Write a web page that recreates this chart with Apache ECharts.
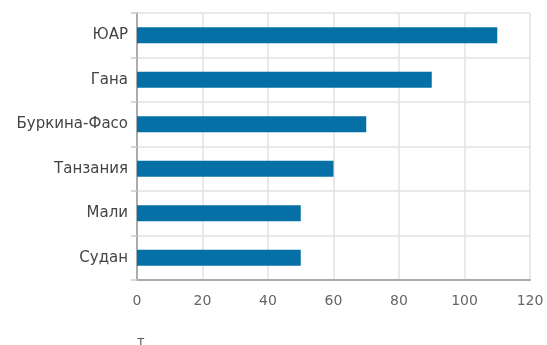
<!DOCTYPE html>
<html>
<head>
<meta charset="utf-8">
<script src="https://cdn.jsdelivr.net/npm/echarts@6/dist/echarts.min.js"></script>
<style>
  html, body { margin: 0; padding: 0; background: #fff; }
  #chart { width: 547px; height: 345px; }
</style>
</head>
<body>
<div id="chart"></div>
<script>
// Countries, listed bottom to top as the category axis draws them
const countries = ['Судан', 'Мали', 'Танзания', 'Буркина-Фасо', 'Гана', 'ЮАР'];
// Values in tonnes
const values = [50, 50, 60, 70, 90, 110];
const unitLabel = 'т';

const chart = echarts.init(document.getElementById('chart'), null, { renderer: 'canvas' });
const font = '"DejaVu Sans", "Noto Sans", sans-serif';

chart.setOption({
  animation: false,
  grid: { left: 137, right: 17, top: 13, bottom: 65, containLabel: false },
  xAxis: {
    type: 'value',
    min: 0,
    max: 120,
    interval: 20,
    axisLine: { show: true, lineStyle: { color: '#aaa', width: 2 } },
    axisTick: { show: false },
    axisLabel: { color: '#666', fontSize: 14, fontFamily: font, margin: 14 },
    splitLine: { show: true, lineStyle: { color: '#e2e2e2', width: 1.5 } }
  },
  yAxis: {
    type: 'category',
    data: countries,
    axisLine: { show: true, lineStyle: { color: '#999', width: 1.5 } },
    axisTick: { show: true, length: 6, lineStyle: { color: '#ccc', width: 1.5 } },
    axisLabel: { color: '#444', fontSize: 15, fontFamily: font, margin: 9 },
    splitLine: { show: true, lineStyle: { color: '#e2e2e2', width: 1.5 } }
  },
  series: [{
    type: 'bar',
    data: values,
    barWidth: 16,
    itemStyle: { color: '#0570a5' }
  }],
  graphic: [{
    type: 'text',
    left: 137,
    top: 335,
    style: { text: unitLabel, fill: '#555', font: '13px ' + font }
  }]
});
</script>
</body>
</html>
